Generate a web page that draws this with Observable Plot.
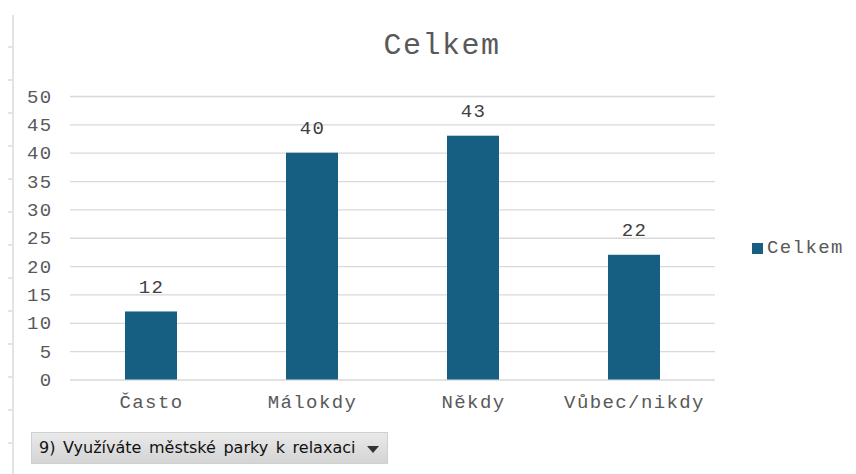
<!DOCTYPE html>
<html>
<head>
<meta charset="utf-8">
<script src="https://cdn.jsdelivr.net/npm/d3@7"></script>
<script src="https://cdn.jsdelivr.net/npm/@observablehq/plot@0.6"></script>
<style>
  html, body { margin: 0; padding: 0; background: #fff; }
  #wrap { position: relative; width: 856px; height: 474px; overflow: hidden; font-family: "Liberation Mono", monospace; }
  #title { position: absolute; left: 0; width: 884px; top: 29px; text-align: center; font-size: 30px; color: #595959; letter-spacing: 1.5px; }
  #legend { position: absolute; left: 752px; top: 237px; font-size: 19px; color: #595959; letter-spacing: 1.4px; display: flex; align-items: center; }
  #legend .sw { width: 11px; height: 11px; background: #175f82; margin-right: 4px; }
  #edge { position: absolute; left: 12px; top: 15px; width: 2px; height: 459px; background: #e3e3e3; }
  .etick { position: absolute; left: 8px; width: 5px; height: 2px; background: #e3e3e3; }
  #btn { position: absolute; left: 31px; top: 432px; width: 357px; height: 32px; box-sizing: border-box;
         background: linear-gradient(#e9e9e9, #d4d4d4); border: 1px solid #cfcfcf;
         font-family: "DejaVu Sans", sans-serif; font-size: 16px; color: #111; line-height: 30px; padding-left: 7px; word-spacing: 2.5px; white-space: nowrap; }
  #btn .arr { position: absolute; right: 8px; top: 13px; width: 0; height: 0; border-left: 6px solid transparent; border-right: 6px solid transparent; border-top: 7px solid #333; }
  #chart { position: absolute; left: 0; top: 0; }
</style>
</head>
<body>
<div id="wrap">
  <div id="edge"></div>
  <div id="chart"></div>
  <div id="title">Celkem</div>
  <div id="legend"><span class="sw"></span><span>Celkem</span></div>
  <div id="btn">9) Využíváte městské parky k relaxaci<span class="arr"></span></div>
</div>
<script>
const categories = ["Často", "Málokdy", "Někdy", "Vůbec/nikdy"];
const values = [12, 40, 43, 22];
const yTicks = [0, 5, 10, 15, 20, 25, 30, 35, 40, 45, 50];
const barColor = "#175f82";

const data = categories.map((c, i) => ({category: c, value: values[i]}));

// left edge decoration ticks
const wrap = document.getElementById("wrap");
for (let k = 0; k < 13; k++) {
  const t = document.createElement("div");
  t.className = "etick";
  t.style.top = (46 + 33 * k) + "px";
  wrap.appendChild(t);
}

const plot = Plot.plot({
  width: 856,
  height: 474,
  marginLeft: 70,
  marginRight: 141,
  marginTop: 96,
  marginBottom: 94.5,
  style: {fontFamily: "Liberation Mono, monospace", fontSize: "19px", color: "#595959", background: "transparent"},
  x: {domain: categories, paddingInner: 0.68, paddingOuter: 0.34, label: null, tickSize: 0, tickPadding: 14},
  y: {domain: [0, 50], ticks: yTicks, label: null, tickSize: 0, tickPadding: 18},
  marks: [
    Plot.gridY(yTicks, {stroke: "#d9d9d9", strokeOpacity: 1, strokeWidth: 1.3}),
    Plot.barY(data, {x: "category", y: "value", fill: barColor}),
    Plot.text(data, {x: "category", y: "value", text: d => String(d.value), dy: -25, fill: "#404040", fontSize: 19}),
    Plot.axisX({tickSize: 0, tickPadding: 14, fontSize: 19, fill: "#595959"}),
    Plot.axisY({ticks: yTicks, tickSize: 0, tickPadding: 18, fontSize: 19, fill: "#595959"})
  ]
});
plot.querySelectorAll("text").forEach(t => t.style.letterSpacing = "1.4px");
document.getElementById("chart").appendChild(plot);
</script>
</body>
</html>
